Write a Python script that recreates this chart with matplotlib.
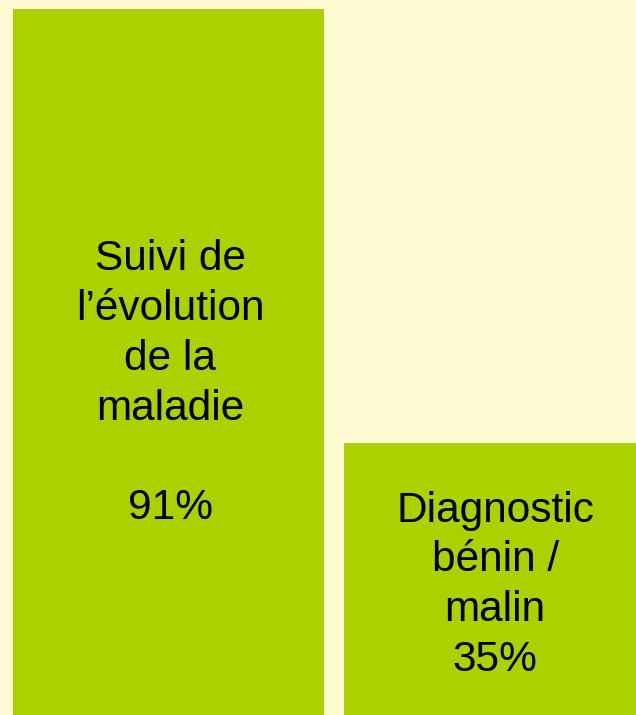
import matplotlib
matplotlib.use("Agg")
import matplotlib.pyplot as plt

# chart data
categories = ["Suivi de\nl\u2019\u00e9volution\nde la\nmaladie", "Diagnostic\nb\u00e9nin /\nmalin"]
values = [91, 35]
value_labels = ["\n\n91%", "\n35%"]

bg_color = "#FFFBD4"
bar_color = "#AAD200"

fig = plt.figure(figsize=(6.36, 7.15), dpi=100)
fig.patch.set_facecolor(bg_color)
ax = fig.add_axes([0, 0, 1, 1])
ax.set_facecolor(bg_color)

x = range(len(values))
ax.bar(x, values, width=0.94, color=bar_color, linewidth=0)

# label positions inside the bars (data coords)
label_y = [42.7, 16.7]
label_x = [0.005, 0.987]
for xi, yi, cat, vl in zip(label_x, label_y, categories, value_labels):
    ax.text(xi, yi, cat + vl,
            ha="center", va="center", multialignment="center",
            fontsize=30.5, family="Liberation Sans", color="black",
            linespacing=1.32)

ax.set_xlim(-0.509, 1.412)
ax.set_ylim(0, 92.12)
ax.axis("off")

fig.savefig("out.png", dpi=100, facecolor=bg_color)
